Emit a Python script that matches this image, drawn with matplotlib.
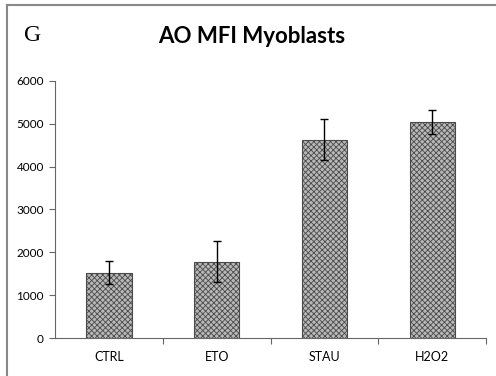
import matplotlib.pyplot as plt
from matplotlib.lines import Line2D

categories = ['CTRL', 'ETO', 'STAU', 'H2O2']
means = [1520, 1780, 4630, 5030]
errors = [270, 480, 470, 280]
yticks = [0, 1000, 2000, 3000, 4000, 5000, 6000]

plt.rcParams['font.family'] = ['Lato', 'DejaVu Sans']
plt.rcParams['hatch.color'] = '#4a4a4a'
plt.rcParams['hatch.linewidth'] = 0.6

fig = plt.figure(figsize=(4.96, 3.76), dpi=100)
ax = fig.add_axes([0.111, 0.101, 0.869, 0.684])

x = list(range(len(categories)))
ax.bar(x, means, width=0.42, color='#b8b8b8', edgecolor='#4a4a4a',
       linewidth=0.8, hatch='xxxxxx')
ax.errorbar(x, means, yerr=errors, fmt='none', ecolor='black',
            elinewidth=1.0, capsize=3, capthick=1.0)

ax.set_xlim(-0.5, len(categories) - 0.5)
ax.set_ylim(0, 6000)
ax.set_yticks(yticks)
ax.set_yticklabels([str(v) for v in yticks], fontsize=8.5)
ax.set_xticks(x)
ax.set_xticklabels(categories, fontsize=9)
ax.tick_params(axis='x', length=0, pad=9)
ax.tick_params(axis='y', length=4, width=0.8, color='#666666', pad=4)
# category boundary ticks under the x axis
ax.set_xticks([i + 0.5 for i in range(len(categories))], minor=True)
ax.tick_params(axis='x', which='minor', length=4, width=0.8, color='#666666')

for s in ['top', 'right']:
    ax.spines[s].set_visible(False)
for s in ['left', 'bottom']:
    ax.spines[s].set_color('#666666')
    ax.spines[s].set_linewidth(0.8)

fig.text(0.508, 0.903, 'AO MFI Myoblasts', fontsize=16, fontweight='bold',
         ha='center', va='center')
fig.text(0.048, 0.905, 'G', fontsize=17, family='Liberation Serif',
         ha='left', va='center')

# outer frame (left and top edges)
fig.add_artist(Line2D([0.014, 0.014], [0.0, 0.987], color='#888888', lw=1.5))
fig.add_artist(Line2D([0.014, 1.0], [0.987, 0.987], color='#888888', lw=1.5))

fig.savefig('out.png', dpi=100)
